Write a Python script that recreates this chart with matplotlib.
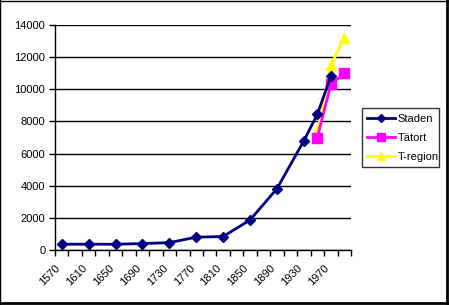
#!/usr/bin/env python3
# -*- coding: utf-8 -*-
import numpy as np
from matplotlib import pyplot as plt
from matplotlib.lines import Line2D

# kategorier (var 20:e år), None = saknas
years = [1570, 1590, 1610, 1630, 1650, 1670, 1690, 1710, 1730, 1750, 1770,
         1790, 1810, 1830, 1850, 1870, 1890, 1910, 1930, 1950, 1970, 1990]
staden = [360, None, 360, None, 360, None, 400, None, 460, None, 800,
          None, 840, None, 1870, None, 3820, None, 6800, 8450, 10800, None]
tatort = [None] * 19 + [7000, 10300, 11000]
tregion = [None] * 19 + [7400, 11500, 13200]
tick_labels = ['1570', '1610', '1650', '1690', '1730', '1770', '1810',
               '1850', '1890', '1930', '1970']


def points(values):
    xs = [i + 0.5 for i, v in enumerate(values) if v is not None]
    ys = [v for v in values if v is not None]
    return xs, ys


plt.rcParams['font.family'] = ['Liberation Sans', 'DejaVu Sans']
plt.rcParams['font.size'] = 8

fig = plt.figure(dpi=100, figsize=(4.49, 3.05))
ax = fig.add_axes([0.1225, 0.1803, 0.6592, 0.7377])

x, y = points(staden)
ax.plot(x, y, c='#000080', lw=2, marker='D', ms=5.5, label='Staden', zorder=3)
x, y = points(tatort)
ax.plot(x, y, c='#FF00FF', lw=2, marker='s', ms=6.5, label='Tätort', zorder=2)
x, y = points(tregion)
ax.plot(x, y, c='#FFFF00', lw=2, marker='^', ms=7, label='T-region', zorder=1)

ax.set_xlim(0, len(years))
ax.set_ylim(0, 14000)
ax.set_yticks(np.arange(0, 14001, 2000))
ax.yaxis.grid(True, color='black', lw=1)
ax.set_axisbelow(True)

# tickmarks mellan kategorier, etikett på vartannat
ticks = np.arange(0, len(years) + 1)
labels = [tick_labels[k // 2] if k % 2 == 0 and k // 2 < len(tick_labels) else ''
          for k in ticks]
ax.set_xticks(ticks)
ax.set_xticklabels(labels, rotation=45, ha='right', va='top', rotation_mode='anchor')
ax.tick_params(axis='both', direction='out', length=4, width=1, color='black', pad=3)
ax.tick_params(axis='x', pad=5)

for s in ['top', 'right']:
    ax.spines[s].set_visible(False)
for s in ['left', 'bottom']:
    ax.spines[s].set_linewidth(1)

leg = fig.legend(loc='lower left', bbox_to_anchor=(0.806, 0.452, 0.171, 0.19),
                 mode='expand', frameon=True, fancybox=False, edgecolor='black',
                 handlelength=2.5, handletextpad=0.2, borderpad=0.5,
                 labelspacing=0.8, borderaxespad=0, markerscale=0.8)
leg.get_frame().set_linewidth(1)

# ram runt diagrammet
fig.add_artist(Line2D([0.001, 0.001], [0, 1], c='black', lw=1))
fig.add_artist(Line2D([0, 1], [0.998, 0.998], c='black', lw=1))
fig.add_artist(Line2D([0.996, 0.996], [0, 1], c='black', lw=2))
fig.add_artist(Line2D([0, 1], [0.005, 0.005], c='black', lw=2))

plt.savefig('out.png', dpi=100)
